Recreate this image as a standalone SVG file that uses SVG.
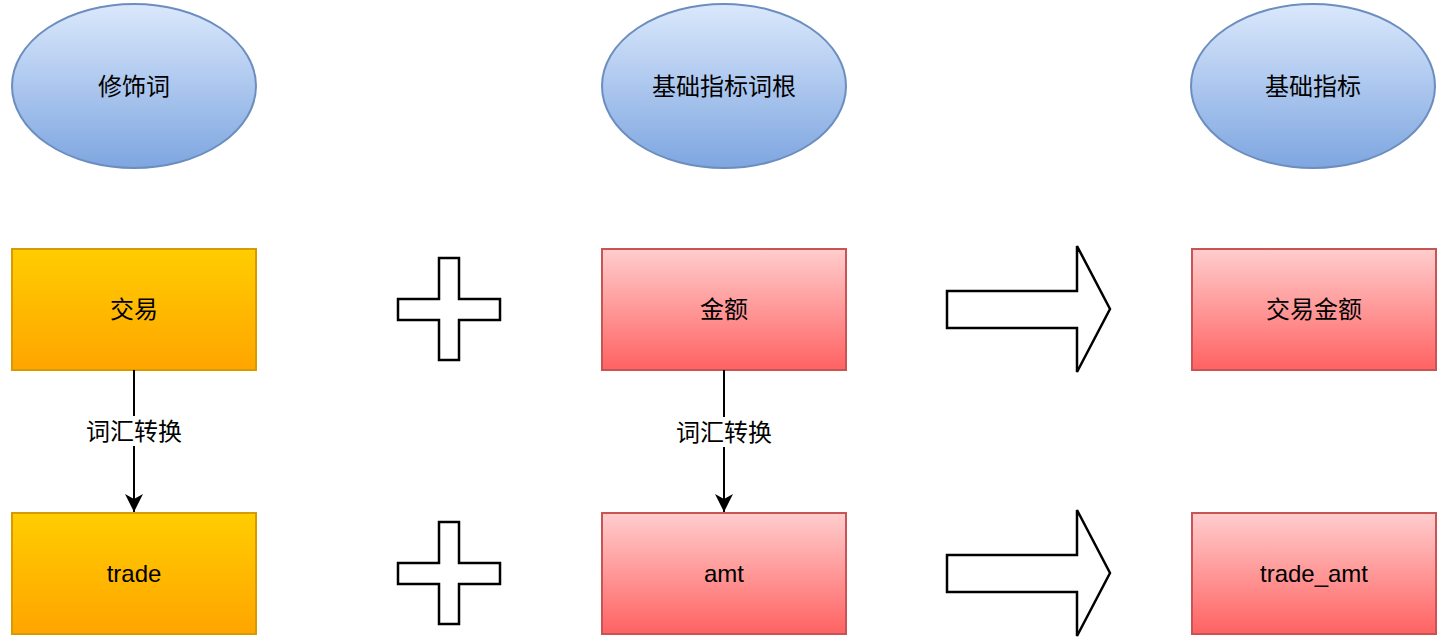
<svg xmlns="http://www.w3.org/2000/svg" width="1447" height="641" viewBox="0 0 1447 641">
<defs>
<linearGradient id="gBlue" x1="0" y1="0" x2="0" y2="1"><stop offset="0" stop-color="#dae8fc"/><stop offset="1" stop-color="#7ea6e0"/></linearGradient>
<linearGradient id="gOrange" x1="0" y1="0" x2="0" y2="1"><stop offset="0" stop-color="#ffcd00"/><stop offset="1" stop-color="#ffa500"/></linearGradient>
<linearGradient id="gRed" x1="0" y1="0" x2="0" y2="1"><stop offset="0" stop-color="#ffcdcd"/><stop offset="1" stop-color="#ff6262"/></linearGradient>
<marker id="arr" viewBox="0 0 18 18" refX="18" refY="9" markerWidth="18" markerHeight="18" markerUnits="userSpaceOnUse" orient="auto">
<path d="M0,0 L18,9 L0,18 L5,9 Z" fill="#000"/>
</marker>
<style>
.ell{fill:url(#gBlue);stroke:#6c8ebf;stroke-width:2}
.org{fill:url(#gOrange);stroke:#d79b00;stroke-width:2}
.red{fill:url(#gRed);stroke:#c85555;stroke-width:2}
.shp{fill:#fff;stroke:#000;stroke-width:2.5}
.t{font-family:"Liberation Sans","Noto Sans CJK SC",sans-serif;font-size:24px;fill:#000;text-anchor:middle;dominant-baseline:central}
.edge{stroke:#000;stroke-width:2;fill:none}
</style>
</defs>
<g id="n-modifier"><ellipse class="ell" cx="134" cy="86" rx="122" ry="82"/><text class="t" x="134" y="86">修饰词</text></g>
<g id="n-root"><ellipse class="ell" cx="724" cy="86" rx="122" ry="82"/><text class="t" x="724" y="86">基础指标词根</text></g>
<g id="n-metric"><ellipse class="ell" cx="1313" cy="86" rx="122" ry="82"/><text class="t" x="1313" y="86">基础指标</text></g>
<g id="n-jiaoyi"><rect class="org" x="12" y="249" width="244" height="121"/><text class="t" x="134" y="309.5">交易</text></g>
<g id="n-trade"><rect class="org" x="12" y="513" width="244" height="121"/><text class="t" x="134" y="573.5">trade</text></g>
<g id="n-jine"><rect class="red" x="602" y="249" width="244" height="121"/><text class="t" x="724" y="309.5">金额</text></g>
<g id="n-amt"><rect class="red" x="602" y="513" width="244" height="121"/><text class="t" x="724" y="573.5">amt</text></g>
<g id="n-jyje"><rect class="red" x="1192" y="249" width="244" height="121"/><text class="t" x="1314" y="309.5">交易金额</text></g>
<g id="n-tradeamt"><rect class="red" x="1192" y="513" width="244" height="121"/><text class="t" x="1314" y="573.5">trade_amt</text></g>
<g id="n-plus1"><path class="shp" d="M439,258 H459 V299 H500 V320 H459 V360 H439 V320 H398 V299 H439 Z"/></g>
<g id="n-plus2"><path class="shp" d="M439,522 H459 V563 H500 V584 H459 V624 H439 V584 H398 V563 H439 Z"/></g>
<g id="n-arrow1"><path class="shp" d="M947,291 H1077 V246 L1110,309 L1077,372 V328 H947 Z"/></g>
<g id="n-arrow2"><path class="shp" d="M947,555 H1077 V510 L1110,573 L1077,636 V592 H947 Z"/></g>
<g id="connectors">
<line class="edge" x1="134" y1="370" x2="134" y2="512" marker-end="url(#arr)"/>
<rect x="86" y="416" width="96" height="30" fill="#fff"/>
<text class="t" x="134" y="431">词汇转换</text>
<line class="edge" x1="724" y1="370" x2="724" y2="512" marker-end="url(#arr)"/>
<rect x="676" y="417" width="96" height="30" fill="#fff"/>
<text class="t" x="724" y="432">词汇转换</text>
</g>
</svg>
